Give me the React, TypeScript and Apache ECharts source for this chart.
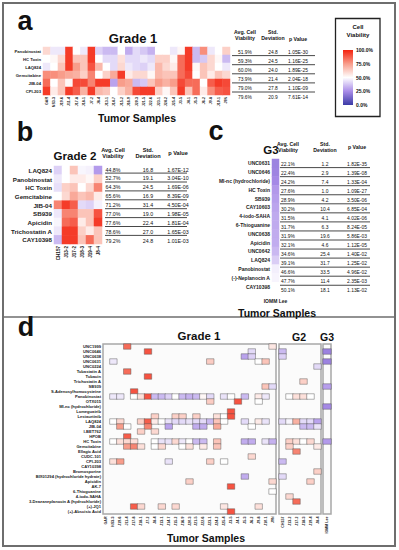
import React, { useEffect, useRef } from "react";
import * as echarts from "echarts";

const FONT = "'Liberation Sans', Arial, Helvetica, sans-serif";

// ---------- categories ----------
const grade1Samples = [
  "GAR", "NS3-3", "J19-6", "J11-4", "J17-8", "J18-1", "J7-2", "J8-4", "J13-1",
  "J14-7", "J15-2", "J16-9", "J20-3", "J21-5", "J22-6", "J23-1", "J24-2",
  "J25-4", "J3-5", "J4-1", "J5-3", "J6-2", "J9-8", "J10-1", "J9N",
];
const grade2Samples = ["CH157", "J13-2", "J17-2", "J18-3", "J19-4", "J8-4"];
const grade3Samples = ["IOMM Lee"];

// ---------- panel a ----------
const aDrugs = ["Panobinostat", "HC Toxin", "LAQ824", "Gemcitabine", "JIB-04", "CPI-203"];
const aViability = [
  [60, 45, 45, 95, 50, 45, 95, 40, 35, 35, 50, 32, 42, 38, 33, 50, 50, 45, 52, 95, 35, 78, 45, 50, 62],
  [50, 52, 60, 95, 65, 65, 95, 50, 42, 42, 58, 42, 42, 45, 42, 62, 62, 52, 85, 95, 35, 38, 60, 52, 35],
  [45, 50, 65, 95, 75, 65, 90, 68, 50, 42, 60, 45, 42, 40, 45, 68, 60, 55, 85, 95, 52, 65, 60, 50, 45],
  [78, 78, 75, 72, 70, 62, 80, 50, 62, 72, 95, 55, 60, 60, 52, 68, 65, 65, 85, 92, 50, 65, 55, 65, 60],
  [85, 50, 65, 52, 92, 92, 80, 95, 95, 30, 75, 72, 35, 38, 65, 75, 70, 75, 92, 85, 85, 50, 88, 95, 92],
  [95, 55, 65, 95, 88, 70, 95, 68, 65, 50, 62, 70, 92, 95, 95, 62, 52, 65, 95, 65, 85, 55, 78, 88, 90],
];
const aAvg = ["51.9%", "59.3%", "60.0%", "73.9%", "79.0%", "79.6%"];
const aStd = ["24.8", "24.5", "24.0", "21.4", "27.8", "20.9"];
const aP = ["1.05E-30", "1.16E-25", "1.89E-25", "2.04E-18", "1.10E-09", "7.61E-14"];

// ---------- panel b ----------
const bDrugs = ["LAQ824", "Panobinostat", "HC Toxin", "Gemcitabine", "JIB-04", "SB939", "Apicidin", "Trichostatin A", "CAY10398"];
const bViability = [
  [40, 50, 65, 48, 47, 28],
  [45, 50, 55, 55, 52, 62],
  [43, 62, 65, 50, 60, 80],
  [50, 60, 72, 65, 68, 55],
  [80, 95, 88, 42, 40, 47],
  [45, 80, 80, 65, 65, 90],
  [48, 85, 88, 55, 65, 95],
  [45, 95, 95, 62, 55, 65],
  [35, 95, 95, 65, 85, 65],
];
const bAvg = ["44.8%", "52.7%", "64.3%", "65.6%", "71.2%", "77.0%", "77.6%", "78.6%", "79.2%"];
const bStd = ["16.8", "19.1", "24.5", "16.9", "31.4", "19.0", "22.4", "27.0", "24.8"];
const bP = ["1.67E-12", "3.04E-10", "1.69E-06", "8.39E-09", "4.50E-04", "1.98E-05", "1.81E-04", "1.65E-03", "1.01E-03"];

// ---------- panel c ----------
const cDrugs = [
  "UNC0631", "UNC0646", "MI-nc (hydrochloride)", "HC Toxin", "SB939", "CAY10603",
  "4-iodo-SAHA", "6-Thioguanine", "UNC0638", "Apicidin", "UNC0642", "LAQ824",
  "Panobinostat", "(-)-Neplanocin A", "CAY10398",
];
const cAvgValue = [22.1, 22.4, 24.2, 27.6, 28.9, 30.2, 31.5, 31.7, 31.9, 32.1, 34.6, 39.1, 46.6, 47.7, 50.1];
const cStd = ["1.2", "2.9", "7.4", "1.0", "4.2", "10.4", "4.1", "6.3", "19.6", "4.6", "25.4", "31.7", "33.5", "11.4", "18.1"];
const cP = [
  "1.82E-35", "1.39E-08", "1.33E-04", "1.09E-27", "3.50E-06", "6.85E-04", "4.02E-06", "8.24E-05",
  "5.86E-03", "1.12E-05", "1.40E-02", "1.25E-02", "4.96E-02", "2.35E-03", "1.13E-02",
];

// ---------- panel d ----------
const dDrugs = [
  "UNC1999", "UNC0646", "UNC0638", "UNC0631", "UNC0224", "Tubastatin A", "Tubacin",
  "Trichostatin A", "SB939", "S-Adenosylhomocysteine", "Panobinostat", "OTX015",
  "MI-nc (hydrochloride)", "Lomeguatrib", "Lestaurtinib", "LAQ824", "JIB-04", "I-BET762",
  "HPOB", "HC Toxin", "Gemcitabine", "Ellagic Acid", "CUDC-101", "CPI-203", "CAY10398",
  "Bromosporine", "BIX01294 (hydrochloride hydrate)", "Apicidin", "AK-7", "6-Thioguanine",
  "4-iodo-SAHA", "3-Deazaneplanocin A (hydrochloride)", "(+)-JQ1", "(+)-Abscisic Acid",
];
// [drug row, sample column, viability]
const dGrade1: number[][] = [
  [0, 3, 85], [0, 24, 56], [1, 6, 90], [1, 21, 42], [2, 20, 30], [2, 21, 40],
  [3, 1, 45], [3, 15, 63], [3, 22, 50], [3, 23, 65], [5, 3, 85], [6, 6, 90],
  [8, 23, 65], [8, 24, 42], [9, 4, 90],
  [10, 1, 45], [10, 2, 45], [10, 4, 50], [10, 5, 58], [10, 6, 90], [10, 7, 35], [10, 8, 35],
  [10, 9, 40], [10, 10, 50], [10, 11, 35], [10, 12, 33], [10, 13, 35], [10, 14, 52],
  [10, 15, 42], [10, 17, 44], [10, 18, 50], [10, 20, 35], [10, 22, 55], [10, 23, 45],
  [11, 15, 63], [11, 19, 90], [11, 22, 50], [13, 18, 90],
  [14, 7, 62], [14, 10, 62], [14, 11, 62], [14, 13, 62], [14, 16, 58], [14, 17, 50], [14, 18, 90],
  [15, 1, 50], [15, 2, 60], [15, 5, 62], [15, 6, 88], [15, 7, 55], [15, 8, 50], [15, 9, 44],
  [15, 10, 42], [15, 11, 42], [15, 12, 44], [15, 13, 42], [15, 14, 42], [15, 15, 35],
  [15, 16, 65], [15, 17, 50], [15, 20, 42], [15, 22, 55], [15, 23, 44],
  [16, 2, 75], [16, 3, 50], [16, 6, 80], [16, 9, 30], [16, 13, 32], [16, 14, 32], [16, 16, 72], [16, 21, 50],
  [17, 5, 62], [17, 7, 60], [18, 3, 88],
  [19, 1, 50], [19, 2, 58], [19, 3, 60], [19, 4, 58], [19, 7, 50], [19, 8, 44], [19, 9, 44],
  [19, 10, 60], [19, 11, 45], [19, 12, 50], [19, 13, 35], [19, 14, 35], [19, 16, 65],
  [19, 20, 32], [19, 21, 32], [19, 23, 44], [19, 24, 33],
  [20, 3, 75], [20, 4, 80], [20, 5, 58], [20, 7, 50], [20, 8, 60], [20, 11, 50], [20, 12, 58],
  [20, 14, 55], [20, 16, 65],
  [22, 21, 60], [23, 1, 58], [23, 2, 75], [23, 9, 44], [23, 15, 62], [23, 17, 50],
  [26, 20, 32], [27, 12, 62], [27, 24, 60], [28, 18, 90], [29, 24, 50],
  [32, 4, 88], [32, 5, 60], [32, 8, 60], [32, 10, 60], [32, 17, 56], [32, 22, 58], [33, 18, 90],
];
const dGrade2: number[][] = [
  [1, 0, 35], [2, 0, 40], [4, 5, 42], [7, 3, 62],
  [10, 1, 50], [10, 2, 58], [10, 3, 58], [10, 4, 50],
  [15, 0, 42], [15, 1, 48], [15, 2, 70], [15, 3, 42], [15, 4, 42], [15, 5, 30],
  [16, 3, 35], [16, 4, 35], [16, 5, 44],
  [19, 1, 62], [19, 2, 58], [19, 3, 50], [19, 4, 60], [20, 1, 62], [20, 5, 55], [21, 2, 80],
  [23, 0, 35], [25, 5, 62], [26, 0, 42], [27, 4, 62], [30, 1, 60], [31, 2, 85],
];
const dGrade3: number[][] = [[1, 0, 22], [3, 0, 22], [8, 0, 29], [12, 0, 24], [19, 0, 28]];

const legendTicks = ["100.0%", "75.0%", "50.0%", "25.0%", "0.0%"];
const viabilityColors = ["#3b3ba6", "#a98ce8", "#ffffff", "#f89d8b", "#f4220f"];

// ---------- helpers ----------
function txt(text: string, x: number, y: number, size: number, bold = false, align = "center") {
  return {
    type: "text",
    x,
    y,
    silent: true,
    style: {
      text,
      fontSize: size,
      fontFamily: FONT,
      fontWeight: bold ? "bold" : "normal",
      fill: "#111",
      align,
      verticalAlign: "middle",
    },
  };
}

function table(
  cols: number[],
  headerY: [number, number],
  pY: number,
  rowY0: number,
  dy: number,
  lineX: [number, number],
  columns: string[][],
  size: number,
) {
  const els: any[] = [];
  els.push(txt("Avg. Cell", cols[0], headerY[0], size, true));
  els.push(txt("Viability", cols[0], headerY[1], size, true));
  els.push(txt("Std.", cols[1], headerY[0], size, true));
  els.push(txt("Deviation", cols[1], headerY[1], size, true));
  els.push(txt("p Value", cols[2], pY, size, true));
  const n = columns[0].length;
  for (let i = 0; i < n; i++) {
    const y = rowY0 + i * dy;
    columns.forEach((col, k) => els.push(txt(col[i], cols[k], y, size - 0.3)));
    if (i < n - 1) {
      els.push({
        type: "line",
        silent: true,
        shape: { x1: lineX[0], y1: y + 3.6, x2: lineX[1], y2: y + 3.6 },
        style: { stroke: "#333", lineWidth: 0.9 },
      });
    }
  }
  return els;
}

function catX(grid: number, data: string[], size: number, rotate = 90, margin = 2, bold = true) {
  return {
    type: "category",
    gridIndex: grid,
    data,
    axisLine: { show: false },
    axisTick: { show: false },
    splitLine: { show: false },
    axisLabel: {
      interval: 0,
      rotate,
      margin,
      fontSize: size,
      fontFamily: FONT,
      fontWeight: bold ? "bold" : "normal",
      color: "#222",
    },
  };
}

function catY(grid: number, data: string[], size: number, margin = 2, show = true) {
  return {
    type: "category",
    gridIndex: grid,
    data,
    inverse: true,
    axisLine: { show: false },
    axisTick: { show: false },
    splitLine: { show: false },
    axisLabel: {
      show,
      interval: 0,
      margin,
      fontSize: size,
      fontFamily: FONT,
      fontWeight: "bold",
      color: "#222",
    },
  };
}

function heat(idx: number, data: number[][], bordered: boolean) {
  return {
    type: "heatmap",
    xAxisIndex: idx,
    yAxisIndex: idx,
    data,
    emphasis: { disabled: true },
    itemStyle: bordered
      ? { borderColor: "rgba(80,80,80,0.55)", borderWidth: 0.8 }
      : { borderWidth: 0 },
  };
}

export default function App() {
  const ref = useRef<HTMLDivElement>(null);

  useEffect(() => {
    document.body.style.margin = "0";
    const chart = echarts.init(ref.current!, undefined, { renderer: "svg" });

    const aData: number[][] = [];
    aViability.forEach((row, r) => row.forEach((v, c) => aData.push([c, r, v])));
    const bData: number[][] = [];
    bViability.forEach((row, r) => row.forEach((v, c) => bData.push([c, r, v])));
    const cData = cAvgValue.map((v, r) => [0, r, v]);
    const toXY = (list: number[][]) => list.map(([r, c, v]) => [c, r, v]);

    const boxGrid = { show: true, backgroundColor: "#fbfbfb", borderColor: "#a8a8a8", borderWidth: 1.5 };

    const graphics: any[] = [
      {
        type: "rect",
        silent: true,
        shape: { x: 3, y: 3, width: 392, height: 543 },
        style: { fill: "none", stroke: "#6e6e6e", lineWidth: 2 },
      },
      {
        type: "line",
        silent: true,
        shape: { x1: 3, y1: 317, x2: 395, y2: 317 },
        style: { stroke: "#6e6e6e", lineWidth: 1.5 },
      },
      txt("a", 25, 21, 27, true),
      txt("b", 25, 132, 27, true),
      txt("c", 216, 131, 27, true),
      txt("d", 26, 327, 27, true),
      txt("Grade 1", 133, 38, 13, true),
      txt("Tumor Samples", 137, 118, 10.5, true),
      txt("Grade 2", 75, 156, 11.5, true),
      txt("G3", 271, 150, 11.5, true),
      txt("Tumor Samples", 277, 313, 10.5, true),
      txt("Grade 1", 199, 336, 11.5, true),
      txt("G2", 299, 337, 10.5, true),
      txt("G3", 327, 337, 10.5, true),
      txt("Tumor Samples", 206, 538, 10.5, true),
      // legend
      {
        type: "rect",
        silent: true,
        shape: { x: 335.5, y: 18.5, width: 44.5, height: 98 },
        style: { fill: "#fff", stroke: "#222", lineWidth: 1.3 },
      },
      txt("Cell", 358, 27, 6, true),
      txt("Viability", 358, 34.5, 6, true),
      {
        type: "rect",
        silent: true,
        shape: { x: 343, y: 50, width: 10, height: 55 },
        style: {
          fill: new echarts.graphic.LinearGradient(0, 0, 0, 1, viabilityColors
            .slice()
            .reverse()
            .map((color, i, arr) => ({ offset: i / (arr.length - 1), color }))),
        },
      },
      ...legendTicks.map((t, i) => txt(t, 356, 50 + i * 13.75, 5, true, "left")),
      ...table([245, 273, 298], [32, 38], 38.5, 52, 9.1, [232, 315], [aAvg, aStd, aP], 5.2),
      ...table([113, 148, 178], [150, 156], 152.5, 169.5, 8.9, [105, 187], [bAvg, bStd, bP], 5.6),
      ...table(
        [288, 325, 357],
        [143.5, 150],
        147,
        164,
        9.05,
        [280, 370],
        [cAvgValue.map((v) => v.toFixed(1) + "%"), cStd, cP],
        5.2,
      ),
    ];

    chart.setOption({
      animation: false,
      backgroundColor: "#ffffff",
      grid: [
        { left: 43, top: 47, width: 187, height: 48 },
        { left: 54, top: 166, width: 48, height: 78 },
        { left: 272, top: 159, width: 7, height: 132 },
        { left: 103, top: 344, width: 173, height: 170, ...boxGrid },
        { left: 279, top: 344, width: 42, height: 170, ...boxGrid },
        { left: 323, top: 344, width: 8, height: 170, ...boxGrid },
      ],
      xAxis: [
        catX(0, grade1Samples, 3.6),
        catX(1, grade2Samples, 4.6),
        catX(2, grade3Samples, 5, 0, 7),
        catX(3, grade1Samples, 3.6, 90, 2.5),
        catX(4, grade2Samples, 3.6, 90, 2.5),
        catX(5, grade3Samples, 3.6, 90, 2.5),
      ],
      yAxis: [
        catY(0, aDrugs, 4.2, 2),
        catY(1, bDrugs, 6.2, 2),
        catY(2, cDrugs, 5, 2),
        catY(3, dDrugs, 4.1, 2),
        catY(4, dDrugs, 4, 2, false),
        catY(5, dDrugs, 4, 2, false),
      ],
      visualMap: {
        show: false,
        type: "continuous",
        min: 0,
        max: 100,
        dimension: 2,
        seriesIndex: [0, 1, 2, 3, 4, 5],
        inRange: { color: viabilityColors },
      },
      series: [
        heat(0, aData, false),
        heat(1, bData, false),
        heat(2, cData, false),
        heat(3, toXY(dGrade1), true),
        heat(4, toXY(dGrade2), true),
        heat(5, toXY(dGrade3), true),
      ],
      graphic: { elements: graphics },
    });

    return () => chart.dispose();
  }, []);

  return <div ref={ref} style={{ width: 399, height: 550 }} />;
}
